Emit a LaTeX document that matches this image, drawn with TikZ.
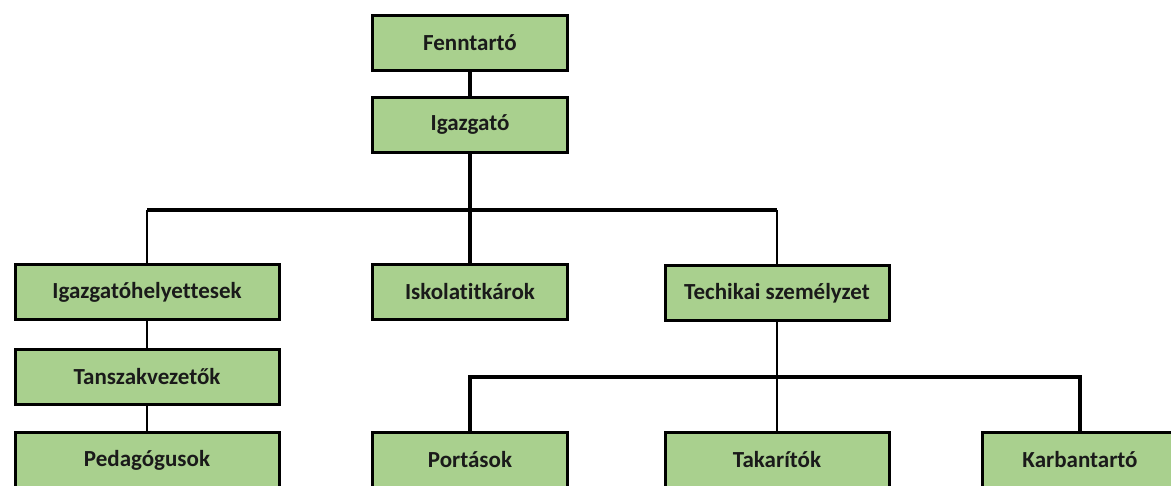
\documentclass[tikz,border=0pt]{standalone}
\usepackage{fontspec}
\setmainfont{Carlito}[Ligatures=NoCommon]
\usepackage{tikz}
\usetikzlibrary{positioning,calc}
\definecolor{leaf}  {HTML}{A9D08E}
\definecolor{ink}   {HTML}{1A1A1A}

\tikzset{
  unit/.style={draw=black, fill=leaf, line width=3pt, minimum height=55pt,
               font=\fontsize{23}{26}\selectfont\bfseries, text=ink, inner sep=0pt},
  narrow/.style={unit, minimum width=195pt},
  mid/.style={unit, minimum width=224pt},
  wide/.style={unit, minimum width=264pt},
  link/.style={black, line width=3.4pt},
  thinlink/.style={black, line width=1.6pt}
}

\begin{document}
\begin{tikzpicture}[x=1pt,y=-1pt]
  \useasboundingbox (0,0) rectangle (1171,486);
  \clip (0,0) rectangle (1171,486);
  % top of the tree
  \node[narrow] (fenn)   at (470,43)  {Fenntartó};
  \node[narrow] (igaz)   at (470,125) {Igazgató};
  % second level
  \node[wide]   (helyet) at (147,292) {Igazgatóhelyettesek};
  \node[narrow] (titkar) at (470,292) {Iskolatitkárok};
  \node[mid]    (tech)   at (777,293) {Techikai személyzet};
  % teaching branch
  \node[wide]   (tansz)  at (147,377) {Tanszakvezetők};
  \node[wide]   (pedag)  at (147,460) {Pedagógusok};
  % technical branch
  \node[narrow] (portas) at (470,460) {Portások};
  \node[mid]    (takar)  at (777,460) {Takarítók};
  \node[narrow] (karban) at (1080,460) {Karbantartó};
  \coordinate (bar)  at (470,210);
  \coordinate (bar2) at (777,377);
  % connectors
  \draw[link] (fenn) -- (igaz);
  \draw[link] (igaz) -- (titkar);
  \draw[link] (helyet.north |- bar) -- (bar) -- (tech.north |- bar);
  \draw[thinlink] (helyet.north) -- (helyet.north |- bar);
  \draw[thinlink] (tech.north) -- (tech.north |- bar);
  \draw[thinlink] (helyet) -- (tansz);
  \draw[thinlink] (tansz) -- (pedag);
  \draw[thinlink] (tech) -- (takar);
  \draw[link] (portas.north) |- (bar2) -| (karban.north);
\end{tikzpicture}
\end{document}
